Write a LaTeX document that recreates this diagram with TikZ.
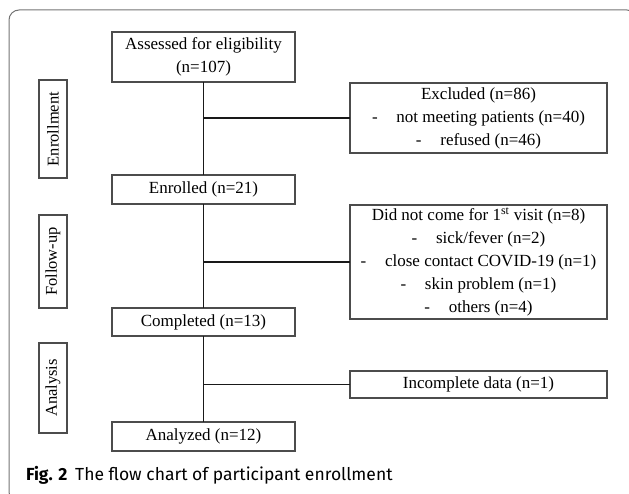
\documentclass[tikz,border=0pt]{standalone}
\usepackage{fontspec}
\setmainfont{Liberation Serif}
\newfontfamily\capfont{Fira Sans}
\begin{document}
\begin{tikzpicture}[x=1pt,y=-1pt,
  every node/.style={inner sep=0pt,outer sep=0pt},
  flowbox/.style={draw=black!70,line width=1.2pt,align=center,font=\fontsize{17}{23}\selectfont},
  leftbox/.style={flowbox,minimum width=183pt},
  rightbox/.style={flowbox,minimum width=257pt},
  phasebox/.style={draw=black!70,line width=1.2pt,rotate=90,minimum height=28pt,font=\fontsize{16.5}{20}\selectfont},
  link/.style={draw=black!90,line width=1.9pt}]
\useasboundingbox (0,0) rectangle (629,494);
\begin{scope}
\clip (0,0) rectangle (629,494);
\draw[black!55,line width=1pt,rounded corners=10pt] (9,10) rectangle (637,502);
\end{scope}
% left column
\node[leftbox,minimum height=50pt] (assessed) at (203.5,57) {Assessed for eligibility\\(n=107)};
\node[leftbox,minimum height=29pt] (enrolled) at (203.5,189.5) {Enrolled (n=21)};
\node[leftbox,minimum height=28pt] (completed) at (203.5,322) {Completed (n=13)};
\node[leftbox,minimum height=29pt] (analyzed) at (203.5,436.5) {Analyzed (n=12)};
% right column
\node[rightbox,minimum height=70pt] (excluded) at (478.5,118) {Excluded (n=86)\\-\hspace{1.1em}not meeting patients (n=40)\\-\hspace{1.1em}refused (n=46)};
\node[rightbox,minimum height=114pt] (notcome) at (478.5,262) {Did not come for 1\textsuperscript{st} visit (n=8)\\-\hspace{1.1em}sick/fever (n=2)\\-\hspace{1.1em}close contact COVID-19 (n=1)\\-\hspace{1.1em}skin problem (n=1)\\-\hspace{1.1em}others (n=4)};
\node[rightbox,minimum height=27pt] (incomplete) at (478.5,384.5) {Incomplete data (n=1)};
% phase labels
\node[phasebox,minimum width=98pt] (enrollment) at (53,129) {Enrollment};
\node[phasebox,minimum width=93pt] (followup) at (53,261.5) {Follow-up};
\node[phasebox,minimum width=90pt] (analysis) at (53,388) {Analysis};
% connectors
\draw[link] (assessed.south) -- (enrolled.north);
\draw[link] (enrolled.south) -- (completed.north);
\draw[link] (completed.south) -- (analyzed.north);
\draw[link] (excluded.west) -- (excluded.west -| assessed.south);
\draw[link] (notcome.west) -- (notcome.west -| enrolled.south);
\draw[link] (incomplete.west) -- (incomplete.west -| completed.south);
% caption
\node[anchor=base west,font=\capfont\fontsize{17.5}{21}\selectfont] (caption) at (26,480) {\textbf{Fig. 2}\hspace{0.45em}The flow chart of participant enrollment};
\end{tikzpicture}
\end{document}
